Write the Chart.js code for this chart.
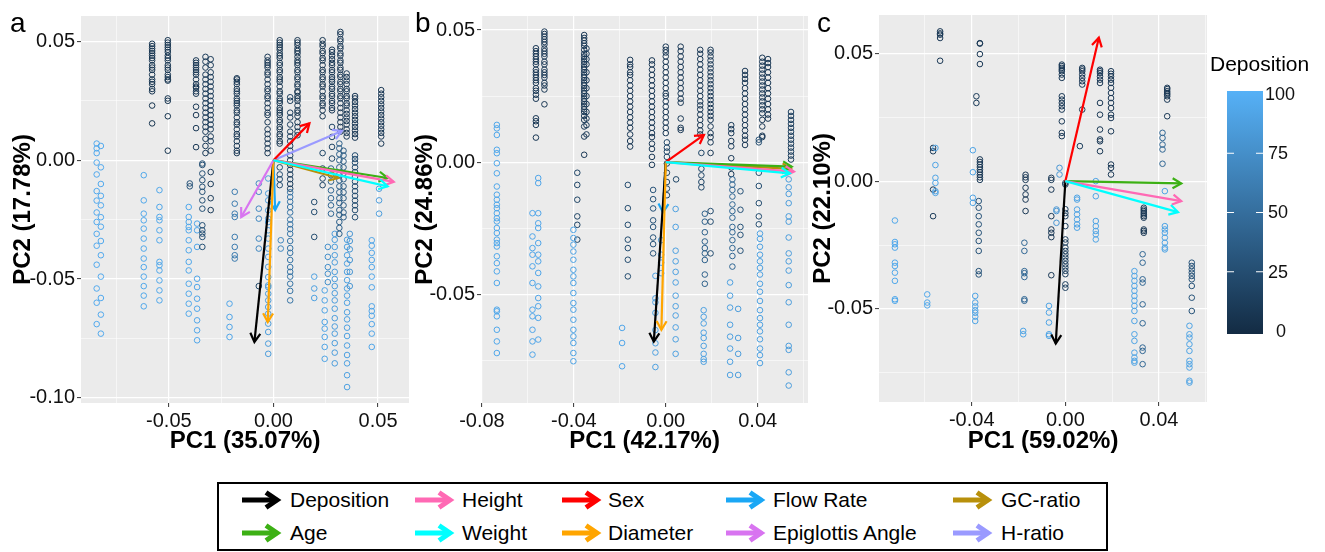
<!DOCTYPE html>
<html>
<head>
<meta charset="utf-8">
<script src="https://cdn.jsdelivr.net/npm/chart.js@4.4.1/dist/chart.umd.min.js"></script>
<style>
  body { margin: 0; width: 1325px; height: 552px; background: #fff; position: relative; overflow: hidden;
         font-family: "Liberation Sans", Arial, sans-serif; }
  canvas { position: absolute; top: 0; }
  #legend { position: absolute; left: 217px; top: 482px; width: 891px; height: 69px;
            border: 2px solid #000; box-sizing: border-box; }
  .key { position: absolute; height: 20px; }
  .lab { position: absolute; font-size: 21px; line-height: 24px; color: #000; white-space: nowrap; }
</style>
</head>
<body>
<canvas id="pa" width="414" height="470" style="left:0px"></canvas>
<canvas id="pb" width="415" height="470" style="left:400px"></canvas>
<canvas id="pc" width="525" height="470" style="left:800px"></canvas>
<div id="legend"></div>
<script>
// variables (legend order) and their arrow colours
const names = ['Deposition', 'Height', 'Sex', 'Flow Rate', 'GC-ratio',
               'Age', 'Weight', 'Diameter', 'Epiglottis Angle', 'H-ratio']
const colors = ['#000000', '#FF69B4', '#FF0000', '#1AA7F5', '#B8900B',
                '#3CB014', '#00FFFF', '#FFA500', '#D874F0', '#9A9AFF']

// loading vectors, same order as names (null = not drawn)
const aArrowX = [-0.0091, 0.0575, 0.0172, 0.0008, 0.031, 0.0546, 0.0546, -0.0027, -0.0154, 0.0327]
const aArrowY = [-0.0765, -0.0091, 0.0155, -0.021, -0.0075, -0.0075, -0.011, -0.0681, -0.0239, 0.0123]
const bArrowX = [-0.0052, 0.0558, 0.0166, -0.0012, 0.0545, 0.0548, 0.054, -0.0019, null, null]
const bArrowY = [-0.0679, -0.0036, 0.0103, -0.019, -0.0025, -0.0017, -0.0042, -0.0634, null, null]
const cArrowX = [-0.0041, 0.0495, 0.0143, null, null, 0.0495, 0.0481, null, null, null]
const cArrowY = [-0.0635, -0.0078, 0.0561, null, null, -0.0009, -0.0121, null, null, null]

// ticks
const aXTicks = [-0.05, 0, 0.05], aXLabels = ['-0.05', '0.00', '0.05'], aXMinor = [-0.075, -0.025, 0.025]
const aYTicks = [-0.1, -0.05, 0, 0.05], aYLabels = ['-0.10', '-0.05', '0.00', '0.05'], aYMinor = [-0.075, -0.025, 0.025]
const bXTicks = [-0.08, -0.04, 0, 0.04], bXLabels = ['-0.08', '-0.04', '0.00', '0.04'], bXMinor = [-0.06, -0.02, 0.02, 0.06]
const bYTicks = [-0.05, 0, 0.05], bYLabels = ['-0.05', '0.00', '0.05'], bYMinor = [-0.075, -0.025, 0.025]
const cXTicks = [-0.04, 0, 0.04], cXLabels = ['-0.04', '0.00', '0.04'], cXMinor = [-0.06, -0.02, 0.02, 0.06]
const cYTicks = [-0.05, 0, 0.05], cYLabels = ['-0.05', '0.00', '0.05'], cYMinor = [-0.075, -0.025, 0.025]
const depTicks = [0, 25, 50, 75, 100]

// scores: [PC1, Deposition, [PC2 values]]
const aCols = [
  [-0.0845, 95, [0.007, 0.005, 0.003, -0.001, -0.006, -0.013, -0.017, -0.022, -0.026, -0.031, -0.036, -0.044, -0.054, -0.060, -0.069]],
  [-0.0825, 95, [0.006, -0.003, -0.010, -0.015, -0.019, -0.024, -0.028, -0.034, -0.040, -0.049, -0.058, -0.065, -0.073]],
  [-0.062, 93, [-0.0063, -0.0169, -0.0225, -0.0253, -0.0288, -0.033, -0.0372, -0.0414, -0.045, -0.049, -0.053, -0.057, -0.0615]],
  [-0.058, 8, [0.049, 0.048, 0.047, 0.046, 0.045, 0.044, 0.043, 0.042, 0.040, 0.039, 0.038, 0.036, 0.034, 0.033, 0.032, 0.030, 0.029, 0.023, 0.0155]],
  [-0.0545, 93, [-0.0126, -0.0197, -0.0239, -0.0253, -0.0295, -0.0337, -0.0428, -0.0442, -0.0464, -0.0506, -0.0548, -0.059]],
  [-0.0505, 8, [0.0505, 0.0495, 0.0485, 0.0475, 0.0465, 0.0455, 0.044, 0.043, 0.042, 0.040, 0.039, 0.038, 0.036, 0.035, 0.034, 0.0335, 0.026, 0.025, 0.0185, 0.004]],
  [-0.0405, 93, [-0.0197, -0.0239, -0.026, -0.0281, -0.0295, -0.0337, -0.0379, -0.0428, -0.0464, -0.052, -0.0562, -0.0604, -0.0646]],
  [-0.040, 30, [-0.0098, -0.011]],
  [-0.037, 10, [0.042, 0.041, 0.040, 0.039, 0.038, 0.037, 0.036, 0.034, 0.032, 0.031, 0.0305, 0.029, 0.028, 0.0225, 0.019, 0.0135, 0.0055]],
  [-0.0365, 92, [-0.0267, -0.0295, -0.0365, -0.0499, -0.0534, -0.0583, -0.0625, -0.0674, -0.0716, -0.0758]],
  [-0.034, 28, [-0.0014, -0.002, -0.0056, -0.0084, -0.0112, -0.0133, -0.0169, -0.0204, -0.0274, -0.0295, -0.0309, -0.0323, -0.0365]],
  [-0.0325, 12, [0.0435, 0.0415, 0.039, 0.036, 0.034, 0.032, 0.030, 0.028, 0.026, 0.024, 0.022, 0.020, 0.018, 0.016, 0.014, 0.012, 0.009, 0.006, 0.003]],
  [-0.030, 12, [0.0425, 0.040, 0.037, 0.035, 0.033, 0.031, 0.029, 0.027, 0.025, 0.023, 0.021, 0.019, 0.017, 0.015, 0.013, 0.010, 0.008, 0.004, -0.005, -0.010, -0.016, -0.021]],
  [-0.021, 92, [-0.0604, -0.066, -0.0702, -0.0744]],
  [-0.0185, 60, [-0.0133, -0.0183, -0.0225, -0.0239, -0.0323, -0.0365, -0.040, -0.0414]],
  [-0.0175, 10, [0.0345, 0.034, 0.033, 0.032, 0.030, 0.029, 0.028, 0.026, 0.025, 0.024, 0.023, 0.021, 0.020, 0.018, 0.016, 0.015, 0.013, 0.011, 0.010, 0.008, 0.006, 0.004, 0.003]],
  [-0.007, 70, [-0.0098, -0.0133, -0.0204, -0.0246, -0.033, -0.0372]],
  [-0.007, 20, [-0.053]],
  [-0.0028, 10, [0.0435, 0.042, 0.041, 0.040, 0.039, 0.037, 0.036, 0.034, 0.032, 0.030, 0.029, 0.027, 0.026, 0.024, 0.022, 0.020, 0.019, 0.016, 0.013, 0.011, 0.009, 0.007, 0.005, 0.003]],
  [-0.0025, 85, [-0.0077, -0.014, -0.0169, -0.0211, -0.0246, -0.026, -0.0295, -0.033, -0.0372, -0.0407, -0.0449, -0.0492, -0.0527, -0.0534, -0.0562, -0.059, -0.0618, -0.0646, -0.0688, -0.0723, -0.0772, -0.0815]],
  [0.003, 8, [0.0505, 0.0495, 0.0485, 0.0475, 0.0465, 0.045, 0.044, 0.043, 0.041, 0.040, 0.038, 0.037, 0.035, 0.034, 0.033, 0.031, 0.029, 0.028, 0.026, 0.025, 0.024, 0.022, 0.021, 0.020, 0.019, 0.017, 0.016, 0.014, 0.013, 0.011, 0.010, 0.008, 0.007]],
  [0.003, 25, [-0.003, -0.006, -0.008, -0.0105]],
  [0.0035, 70, [-0.0337, -0.0372]],
  [0.008, 15, [0.0265, 0.025, 0.020, 0.018, 0.015, 0.012, 0.010, 0.008, 0.006, 0.004, 0.002, 0.000, -0.002, -0.004, -0.006, -0.008, -0.010, -0.012]],
  [0.008, 55, [-0.0135, -0.0155, -0.0175, -0.0197, -0.022, -0.025, -0.027, -0.029, -0.031, -0.034, -0.037, -0.039, -0.042, -0.045, -0.047, -0.049, -0.052, -0.055, -0.059]],
  [0.0115, 8, [0.0505, 0.0495, 0.0485, 0.047, 0.046, 0.045, 0.0435, 0.042, 0.041, 0.040, 0.038, 0.037, 0.035, 0.034, 0.032, 0.031, 0.029, 0.0285, 0.027, 0.026, 0.025, 0.023, 0.021, 0.020, 0.0185, 0.016, 0.014, 0.012, 0.0105]],
  [0.0195, 25, [-0.0176, -0.0218, -0.0323]],
  [0.0195, 88, [-0.049, -0.054, -0.058]],
  [0.0235, 8, [0.0505, 0.049, 0.048, 0.046, 0.045, 0.043, 0.042, 0.040, 0.038, 0.037, 0.035, 0.034, 0.032, 0.031, 0.029, 0.027, 0.026, 0.024, 0.023, 0.021, 0.0185]],
  [0.0235, 20, [0.003, -0.0035, -0.0077, -0.0105]],
  [0.0245, 90, [-0.0548, -0.059, -0.0632, -0.0681, -0.0709, -0.0744, -0.0786, -0.0836]],
  [0.026, 75, [-0.0365, -0.0407, -0.045, -0.0478, -0.0513]],
  [0.028, 10, [0.0465, 0.0455, 0.044, 0.0425, 0.041, 0.040, 0.038, 0.037, 0.035, 0.034, 0.033, 0.031, 0.030, 0.028, 0.027, 0.025, 0.024, 0.022, 0.021]],
  [0.028, 20, [0.014, 0.0098, 0.0056, 0.0007]],
  [0.0275, 45, [-0.0035, -0.0063, -0.009, -0.0127, -0.016, -0.019, -0.0225]],
  [0.0293, 85, [-0.031, -0.0335, -0.0365, -0.040, -0.043, -0.047, -0.050, -0.053, -0.056, -0.059, -0.0625, -0.0665, -0.070, -0.073, -0.077, -0.081, -0.0855]],
  [0.032, 10, [0.054, 0.053, 0.051, 0.050, 0.048, 0.047, 0.045, 0.044, 0.042, 0.041, 0.039, 0.038, 0.036, 0.035, 0.033, 0.032, 0.030, 0.029, 0.027, 0.026, 0.024, 0.022, 0.020, 0.018, 0.016, 0.014, 0.012]],
  [0.0315, 40, [0.007, 0.005, 0.0025, 0.000, -0.003, -0.006, -0.0085, -0.011, -0.0135, -0.016, -0.018, -0.021, -0.023, -0.026, -0.0285, -0.031]],
  [0.035, 10, [0.0365, 0.035, 0.0335, 0.032, 0.030, 0.029, 0.027, 0.026, 0.024, 0.023, 0.021, 0.0195, 0.018, 0.0165, 0.015, 0.013, 0.0115, 0.010]],
  [0.0335, 35, [0.004, 0.002, -0.0005, -0.003, -0.0055, -0.008, -0.011, -0.0135, -0.016, -0.019, -0.022, -0.024]],
  [0.0352, 88, [-0.0335, -0.0365, -0.040, -0.0435, -0.047, -0.0505, -0.054, -0.057, -0.060, -0.064, -0.067, -0.0705, -0.074, -0.078, -0.082, -0.0855, -0.0905, -0.0955]],
  [0.039, 10, [0.027, 0.026, 0.0245, 0.023, 0.0215, 0.020, 0.0185, 0.017, 0.0155, 0.014, 0.0125, 0.011, 0.0095]],
  [0.039, 25, [0.002, 0.0005, -0.001, -0.003, -0.005, -0.007, -0.009, -0.011, -0.013, -0.015, -0.017, -0.019, -0.021, -0.024]],
  [0.0365, 80, [-0.031, -0.034, -0.0375, -0.042, -0.047, -0.053]],
  [0.047, 92, [-0.0337, -0.036, -0.039, -0.042, -0.045, -0.049, -0.0535, -0.0615, -0.0635, -0.0655, -0.069, -0.073, -0.0786]],
  [0.0515, 10, [0.0295, 0.028, 0.0265, 0.025, 0.0235, 0.022, 0.0205, 0.019, 0.0175, 0.016, 0.0145, 0.013, 0.0115, 0.010, 0.007]],
  [0.0505, 85, [-0.012, -0.0169, -0.0225]]
]

const bCols = [
  [-0.0735, 93, [0.0141, 0.0128, 0.0103, 0.0047, 0.0034, -0.0004, -0.0042, -0.0092, -0.0123, -0.0142, -0.0161, -0.0174, -0.0193, -0.0212, -0.0224, -0.0249, -0.0268, -0.0293, -0.0306, -0.0319, -0.0356, -0.0382, -0.0413, -0.0457, -0.0558, -0.0564, -0.0583, -0.0634, -0.0678, -0.0722]],
  [-0.058, 92, [-0.0193, -0.0281, -0.0325, -0.035, -0.0394, -0.0457, -0.0558, -0.0583, -0.0634, -0.0678, -0.0728]],
  [-0.0555, 92, [-0.006, -0.0079, -0.0193, -0.0231, -0.0249, -0.0306, -0.035, -0.0375, -0.0419, -0.047, -0.0514, -0.0545, -0.0589, -0.0671]],
  [-0.0565, 10, [0.0431, 0.042, 0.041, 0.040, 0.039, 0.038, 0.037, 0.035, 0.034, 0.033, 0.032, 0.031, 0.030, 0.028, 0.027, 0.0255, 0.024, 0.0166, 0.0155, 0.0141, 0.0093]],
  [-0.0528, 10, [0.0494, 0.0485, 0.0475, 0.0465, 0.0455, 0.0445, 0.043, 0.042, 0.041, 0.040, 0.038, 0.037, 0.035, 0.034, 0.033, 0.032, 0.030, 0.029, 0.0275, 0.0219]],
  [-0.0385, 20, [-0.004, -0.0086, -0.0142, -0.0205, -0.0237, -0.0293]],
  [-0.0402, 90, [-0.0256, -0.0287, -0.0312, -0.0338, -0.0369, -0.0407, -0.0432, -0.0457, -0.0495, -0.0533, -0.0558, -0.0596, -0.0634, -0.0659, -0.0684, -0.0722, -0.0753]],
  [-0.0355, 10, [0.0481, 0.047, 0.046, 0.045, 0.044, 0.0425, 0.041, 0.040, 0.039, 0.038, 0.037, 0.036, 0.035, 0.034, 0.033, 0.032, 0.031, 0.030, 0.029, 0.028, 0.027, 0.026, 0.025, 0.024, 0.023, 0.022, 0.021, 0.020, 0.019, 0.0175, 0.016, 0.0135, 0.0097, 0.0028]],
  [-0.0345, 12, [0.043, 0.041, 0.039, 0.037, 0.034, 0.031, 0.028, 0.025, 0.022, 0.019, 0.0165, 0.014, 0.0105]],
  [-0.0155, 10, [0.0387, 0.037, 0.036, 0.034, 0.033, 0.031, 0.029, 0.027, 0.025, 0.023, 0.021, 0.019, 0.017, 0.015, 0.013, 0.0105, 0.008, 0.0059]],
  [-0.0165, 25, [-0.0086, -0.0174, -0.0237, -0.0293, -0.0325, -0.0369, -0.0432]],
  [-0.019, 92, [-0.0627, -0.0684, -0.0772]],
  [-0.006, 10, [0.0385, 0.037, 0.035, 0.033, 0.031, 0.029, 0.027, 0.025, 0.023, 0.021, 0.019, 0.017, 0.015, 0.013, 0.011, 0.0095, 0.007, 0.005, 0.002, -0.001]],
  [-0.0055, 30, [-0.0105, -0.014, -0.0175, -0.022, -0.0245, -0.0285, -0.031, -0.0345]],
  [-0.0045, 88, [-0.043, -0.0515, -0.053, -0.057, -0.0635, -0.0685, -0.072, -0.0775]],
  [0.000, 10, [0.0437, 0.0425, 0.0415, 0.040, 0.038, 0.036, 0.034, 0.032, 0.030, 0.028, 0.026, 0.025, 0.023, 0.021, 0.019, 0.017, 0.015, 0.013, 0.011]],
  [0.0005, 20, [0.0075, 0.0055, 0.004, 0.002, -0.0005, -0.004, -0.0075, -0.010, -0.0125]],
  [-0.002, 85, [-0.0295, -0.035, -0.038, -0.042]],
  [0.0065, 10, [0.0437, 0.042, 0.040, 0.038, 0.036, 0.034, 0.032, 0.030, 0.028, 0.026, 0.024, 0.0225, 0.0165, 0.013, 0.0122]],
  [0.0045, 20, [-0.0065]],
  [0.0043, 88, [-0.0177, -0.0245, -0.0335, -0.0375, -0.0415, -0.0455, -0.0505, -0.0545, -0.058, -0.0625, -0.067, -0.0725]],
  [0.015, 10, [0.0425, 0.041, 0.039, 0.037, 0.035, 0.033, 0.031, 0.029, 0.027, 0.025, 0.023, 0.0215, 0.020, 0.018, 0.016, 0.014, 0.012, 0.0105]],
  [0.0195, 10, [0.0425, 0.0415, 0.040, 0.0385, 0.037, 0.0355, 0.034, 0.0325, 0.031, 0.0295, 0.028, 0.0265, 0.025, 0.0235, 0.022, 0.0205, 0.019, 0.0175, 0.016, 0.0135, 0.011, 0.0095, 0.0075, 0.0035]],
  [0.0155, 20, [0.0035, -0.0025, -0.005, -0.0075, -0.0095]],
  [0.017, 40, [-0.0195, -0.0225, -0.0265, -0.030, -0.0325, -0.0345, -0.037, -0.0425, -0.046]],
  [0.0165, 88, [-0.056, -0.0585, -0.061, -0.0645, -0.0665, -0.0695, -0.0725, -0.0745, -0.0755]],
  [0.0195, 25, [-0.0185, -0.0225, -0.0345]],
  [0.0285, 12, [0.014, 0.0125, 0.011, 0.008, 0.006, 0.0015, -0.002, -0.0045]],
  [0.029, 45, [-0.0065, -0.0085, -0.0105, -0.013, -0.016, -0.0185, -0.021, -0.0245, -0.0265, -0.0295, -0.0325, -0.0355, -0.0395]],
  [0.028, 88, [-0.0455, -0.0505, -0.055, -0.0615, -0.066, -0.0705, -0.0755, -0.0805]],
  [0.0325, 30, [-0.011, -0.018, -0.0245, -0.0275, -0.0335]],
  [0.0315, 85, [-0.0555, -0.0665, -0.0725, -0.0805]],
  [0.0345, 10, [0.0345, 0.033, 0.0315, 0.030, 0.028, 0.026, 0.024, 0.022, 0.020, 0.018, 0.016, 0.014, 0.012, 0.010, 0.0085, 0.0065]],
  [0.042, 10, [0.0395, 0.038, 0.0365, 0.035, 0.0335, 0.032, 0.0305, 0.029, 0.0275, 0.026, 0.0245, 0.023, 0.0215, 0.020, 0.0185, 0.016, 0.0135, 0.010, 0.0095]],
  [0.0445, 10, [0.039, 0.0375, 0.036, 0.034, 0.032, 0.030, 0.028, 0.026, 0.024, 0.022, 0.020, 0.018, 0.0165]],
  [0.0405, 25, [0.0085, 0.0075, -0.004, -0.009, -0.0155, -0.0205, -0.0235]],
  [0.041, 88, [-0.027, -0.029, -0.032, -0.035, -0.0375, -0.040, -0.0425, -0.046, -0.049, -0.0525, -0.056, -0.059, -0.0615, -0.064, -0.067, -0.0705, -0.073, -0.076]],
  [0.0545, 15, [0.019, 0.0175, 0.016, 0.0145, 0.013, 0.0115, 0.010, 0.0085, 0.007, 0.0055, 0.004, 0.0025, 0.001]],
  [0.0535, 85, [-0.0065, -0.0095, -0.012, -0.0155, -0.0205, -0.0225, -0.0285, -0.0345, -0.0375, -0.041, -0.0465, -0.053, -0.0615, -0.0695, -0.071, -0.0795, -0.0845]]
]

const cCols = [
  [-0.0728, 93, [-0.0154, -0.0238, -0.0247, -0.026, -0.0319, -0.0332, -0.0358, -0.039, -0.0462, -0.0468]],
  [-0.059, 93, [-0.0443, -0.0475, -0.0486]],
  [-0.0565, 12, [0.013, 0.0117, -0.0033, -0.0137]],
  [-0.0555, 90, [0.013, 0.0063, 0.0013, -0.0007, -0.0039, -0.0046]],
  [-0.0535, 10, [0.0586, 0.0578, 0.0573, 0.056, 0.0471]],
  [-0.0395, 90, [0.0121, 0.0035, -0.0065, -0.0085]],
  [-0.0385, 90, [-0.0449, -0.0475, -0.049, -0.0505, -0.0515, -0.053, -0.0547]],
  [-0.038, 12, [0.0332, 0.0306]],
  [-0.0365, 10, [0.054, 0.0538, 0.0497, 0.0458, 0.0085, 0.0075, 0.0065, 0.0055, 0.0045, 0.0035, 0.0025, 0.0015, 0.0005]],
  [-0.037, 30, [-0.0078, -0.0104, -0.0137, -0.0169, -0.0202, -0.0234, -0.0273, -0.0352, -0.0365]],
  [-0.017, 10, [0.0025, 0.0015, 0.0005, -0.0026, -0.0052, -0.0072, -0.0117]],
  [-0.0175, 45, [-0.0241, -0.0273, -0.0352, -0.036, -0.0375, -0.0462, -0.0468]],
  [-0.018, 90, [-0.0586, -0.0599]],
  [-0.006, 10, [0.0013, 0.0005, -0.0033, -0.0137, -0.0189, -0.0202, -0.0219, -0.0368]],
  [-0.0038, 80, [-0.0111, -0.0117, -0.0163]],
  [-0.007, 90, [-0.0488, -0.0514, -0.0553, -0.0599, -0.0605]],
  [-0.0015, 10, [0.0456, 0.045, 0.0443, 0.0436, 0.043, 0.0417, 0.0404, 0.0332, 0.0319, 0.0306, 0.0293, 0.028, 0.0234, 0.0189, 0.0176]],
  [-0.0025, 80, [0.0052, 0.0026]],
  [0.000, 15, [-0.0007, -0.0013, -0.011, -0.0125, -0.0137, -0.0176, -0.0228, -0.024, -0.026, -0.0273, -0.0286, -0.0299, -0.0312, -0.0325, -0.0338, -0.0351, -0.0364, -0.0404, -0.0417]],
  [0.005, 90, [-0.0065, -0.0072, -0.0111, -0.013, -0.015, -0.0169, -0.0182]],
  [0.0062, 15, [0.0137]],
  [0.0072, 10, [0.0443, 0.0437, 0.043, 0.0417, 0.0404, 0.0391, 0.0378, 0.028]],
  [0.0148, 10, [0.0436, 0.043, 0.0423, 0.041, 0.0397, 0.0384, 0.0306, 0.026, 0.0202, 0.0163, 0.0156, 0.0117]],
  [0.013, 90, [0.0000, -0.0059, -0.0156, -0.0176, -0.0195, -0.0208, -0.0228]],
  [0.0195, 10, [0.043, 0.042, 0.041, 0.0397, 0.0384, 0.0365, 0.0345, 0.0325, 0.0306, 0.0286, 0.026, 0.0247, 0.0195, 0.0065, 0.0052, 0.0026]],
  [0.0335, 10, [-0.0104, -0.0111, -0.0117, -0.0124, -0.013, -0.0137, -0.0143, -0.0189, -0.0195, -0.0202]],
  [0.033, 45, [-0.0286, -0.0319, -0.0384, -0.0397, -0.0482, -0.0556, -0.0651, -0.0664, -0.0716]],
  [0.0295, 90, [-0.0352, -0.0371, -0.039, -0.041, -0.0429, -0.0449, -0.0468, -0.0488, -0.0508, -0.0547, -0.0599, -0.0625, -0.0671, -0.069, -0.0703, -0.071]],
  [0.0435, 10, [0.0365, 0.036, 0.0352, 0.0345, 0.0339, 0.0332, 0.0319, 0.0254]],
  [0.0415, 45, [0.0189, 0.0169, 0.0143, 0.0124, 0.0068]],
  [0.0425, 90, [-0.0039, -0.0176, -0.0189, -0.0202, -0.0221, -0.0241, -0.026, -0.0267]],
  [0.054, 30, [-0.0319, -0.0332, -0.0345, -0.0358, -0.0371, -0.0384, -0.041, -0.0456, -0.0508]],
  [0.053, 90, [-0.0566, -0.0599, -0.0612, -0.0638, -0.0664, -0.0703, -0.0716, -0.0729, -0.0781, -0.0788]]
]

const FONT = '"Liberation Sans", Arial, sans-serif'
const LOW = [19, 43, 67], HIGH = [86, 177, 247]   // #132B43 -> #56B1F7

function depColor(d) {
  const t = Math.max(0, Math.min(1, d / 100))
  return 'rgb(' + LOW.map((v, i) => Math.round(v + (HIGH[i] - v) * t)).join(',') + ')'
}

const near = (list, v) => list.findIndex(t => Math.abs(t - v) < 1e-9)

function axis(min, max, major, labels, minor, title, fit, titlePad) {
  return {
    type: 'linear', min, max,
    afterBuildTicks: s => { s.ticks = major.concat(minor).sort((a, b) => a - b).map(v => ({value: v})) },
    afterFit: fit,
    border: {display: false},
    grid: {
      color: '#ffffff',
      lineWidth: c => near(major, c.tick.value) >= 0 ? 1.2 : 0.55,
      tickColor: c => near(major, c.tick.value) >= 0 ? '#333333' : 'rgba(0,0,0,0)',
      tickLength: 4, tickWidth: 1
    },
    ticks: {
      autoSkip: false, maxRotation: 0, padding: 2, color: '#111',
      font: {family: FONT, size: 20},
      callback: v => { const i = near(major, v); return i < 0 ? '' : labels[i] }
    },
    title: {display: true, text: title, color: '#000', font: {family: FONT, size: 24, weight: 'bold'}, padding: titlePad}
  }
}

const bgPlugin = {
  id: 'panelBg',
  beforeDraw(chart) {
    const {ctx, chartArea: a} = chart
    ctx.save()
    ctx.fillStyle = '#EBEBEB'
    ctx.fillRect(a.left, a.top, a.width, a.height)
    ctx.restore()
  }
}

// draw order so the overlapping arrows stack like the original
const drawOrder = [4, 3, 0, 7, 8, 9, 2, 5, 1, 6]

function arrowPlugin(ax, ay) {
  return {
    id: 'loadings',
    afterDatasetsDraw(chart) {
      const {ctx, scales: {x, y}} = chart
      const x0 = x.getPixelForValue(0), y0 = y.getPixelForValue(0)
      ctx.save()
      ctx.lineWidth = 2.2
      ctx.lineCap = 'butt'
      ctx.lineJoin = 'miter'
      drawOrder.forEach(i => {
        if (ax[i] == null) return
        const x1 = x.getPixelForValue(ax[i]), y1 = y.getPixelForValue(ay[i])
        const ang = Math.atan2(y1 - y0, x1 - x0), head = 10, spread = Math.PI / 6
        ctx.strokeStyle = colors[i]
        ctx.beginPath()
        ctx.moveTo(x0, y0)
        ctx.lineTo(x1, y1)
        ctx.stroke()
        ctx.beginPath()
        ctx.moveTo(x1 - head * Math.cos(ang - spread), y1 - head * Math.sin(ang - spread))
        ctx.lineTo(x1, y1)
        ctx.lineTo(x1 - head * Math.cos(ang + spread), y1 - head * Math.sin(ang + spread))
        ctx.stroke()
      })
      ctx.restore()
    }
  }
}

function textPlugin(letter, lx, extra) {
  return {
    id: 'panelText',
    afterDraw(chart) {
      const ctx = chart.ctx
      ctx.save()
      ctx.fillStyle = '#000'
      ctx.font = '28px ' + FONT
      ctx.textBaseline = 'alphabetic'
      ctx.fillText(letter, lx, 32)
      if (extra) extra(ctx)
      ctx.restore()
    }
  }
}

// colour bar legend for Deposition (drawn on panel c canvas, page x - 800)
function colorBar(ctx) {
  const left = 427, right = 463, top = 91, bottom = 334
  const g = ctx.createLinearGradient(0, bottom, 0, top)
  g.addColorStop(0, depColor(0))
  g.addColorStop(0.5, depColor(50))
  g.addColorStop(1, depColor(100))
  ctx.fillStyle = g
  ctx.fillRect(left, top, right - left, bottom - top)
  ctx.strokeStyle = '#ffffff'
  ctx.lineWidth = 1
  ctx.font = '18px ' + FONT
  ctx.fillStyle = '#111'
  ctx.textBaseline = 'middle'
  depTicks.forEach(d => {
    const py = bottom - 3 - (bottom - top - 6) * d / 100
    if (d > 0 && d < 100) {
      ctx.beginPath()
      ctx.moveTo(left, py); ctx.lineTo(left + 7, py)
      ctx.moveTo(right - 7, py); ctx.lineTo(right, py)
      ctx.stroke()
    }
    ctx.fillText(String(d), d === 0 ? 476 : (d === 100 ? 465 : 468), py + 1)
  })
  ctx.fillStyle = '#000'
  ctx.font = '21px ' + FONT
  ctx.textBaseline = 'alphabetic'
  ctx.fillText('Deposition', 410, 71)
}

function panel(id, o) {
  const pts = o.cols.flatMap(([x, dep, ys]) => ys.map(y => ({x, y, dep})))
  return new Chart(document.getElementById(id), {
    type: 'scatter',
    data: {
      datasets: [{
        data: pts,
        pointRadius: 2.8,
        pointBorderWidth: 1,
        pointBackgroundColor: 'rgba(0,0,0,0)',
        pointBorderColor: c => depColor(c.raw ? c.raw.dep : 50)
      }]
    },
    options: {
      responsive: false,
      animation: false,
      events: [],
      layout: {padding: o.pad},
      plugins: {legend: {display: false}, tooltip: {enabled: false}},
      scales: {
        x: axis(o.xr[0], o.xr[1], o.xt, o.xl, o.xm, o.xTitle, s => { s.height = o.xh }, {top: 0, bottom: o.xtp}),
        y: axis(o.yr[0], o.yr[1], o.yt, o.yl, o.ym, o.yTitle, s => { s.width = o.yw }, {top: o.ytp, bottom: 0})
      }
    },
    plugins: [bgPlugin, arrowPlugin(o.ax, o.ay), textPlugin(o.letter, o.lx, o.extra)]
  })
}

panel('pa', {
  cols: aCols, ax: aArrowX, ay: aArrowY, letter: 'a', lx: 10,
  xr: [-0.092, 0.0648], yr: [-0.1022, 0.0607],
  xt: aXTicks, xl: aXLabels, xm: aXMinor, yt: aYTicks, yl: aYLabels, ym: aYMinor,
  xTitle: 'PC1 (35.07%)', yTitle: 'PC2 (17.78%)',
  pad: {left: 0, right: 5, top: 16, bottom: 0}, xh: 67, yw: 81, xtp: 14, ytp: 9
})
panel('pb', {
  cols: bCols, ax: bArrowX, ay: bArrowY, letter: 'b', lx: 15,
  xr: [-0.0804, 0.0619], yr: [-0.0911, 0.0553],
  xt: bXTicks, xl: bXLabels, xm: bXMinor, yt: bYTicks, yl: bYLabels, ym: bYMinor,
  xTitle: 'PC1 (42.17%)', yTitle: 'PC2 (24.86%)',
  pad: {left: 0, right: 7, top: 16, bottom: 0}, xh: 67, yw: 81, xtp: 14, ytp: 10.5
})
panel('pc', {
  cols: cCols, ax: cArrowX, ay: cArrowY, letter: 'c', lx: 17, extra: colorBar,
  xr: [-0.0796, 0.0605], yr: [-0.0864, 0.065],
  xt: cXTicks, xl: cXLabels, xm: cXMinor, yt: cYTicks, yl: cYLabels, ym: cYMinor,
  xTitle: 'PC1 (59.02%)', yTitle: 'PC2 (22.10%)',
  pad: {left: 0, right: 118, top: 15, bottom: 0}, xh: 68, yw: 79, xtp: 14, ytp: 8.5
})

// bottom legend of arrow colours
const keyX = [242, 415, 562, 726, 953], textX = [290, 462, 608, 773, 1001], rowY = [500, 533]
const legend = document.body
names.forEach((n, i) => {
  const col = i % 5, row = Math.floor(i / 5)
  const key = document.createElement('div')
  key.className = 'key'
  key.style.left = keyX[col] + 'px'
  key.style.top = (rowY[row] - 10) + 'px'
  key.innerHTML = '<svg width="40" height="20"><path d="M0 10 H33" stroke="' + colors[i] +
    '" stroke-width="5" fill="none"/><path d="M24 2.5 L35 10 L24 17.5" stroke="' + colors[i] +
    '" stroke-width="5" fill="none" stroke-linejoin="miter"/></svg>'
  legend.appendChild(key)
  const lab = document.createElement('div')
  lab.className = 'lab'
  lab.style.left = textX[col] + 'px'
  lab.style.top = (rowY[row] - 12) + 'px'
  lab.textContent = n
  legend.appendChild(lab)
})
</script>
</body>
</html>
